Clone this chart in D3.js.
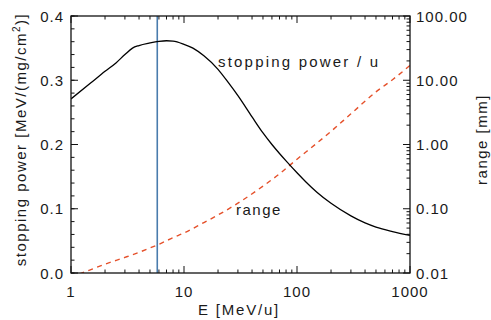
<!DOCTYPE html>
<html><head><meta charset="utf-8">
<script src="https://cdn.jsdelivr.net/npm/d3@7"></script>
<style>body{margin:0;background:#fff}svg{display:block}text{font-family:"Liberation Sans",Arial,sans-serif;fill:#1a1a1a}</style>
</head><body>
<script>
// data
const spE = [1, 1.5, 2, 2.5, 3, 3.5, 4, 5, 6, 7, 8, 10, 12, 15, 20, 25, 30, 40, 50, 60, 70, 80, 100, 120, 150, 200, 300, 400, 500, 700, 1000];
const spS = [0.271, 0.296, 0.314, 0.327, 0.340, 0.350, 0.354, 0.358, 0.3605, 0.3615, 0.361, 0.356, 0.350, 0.338, 0.317, 0.295, 0.276, 0.243, 0.218, 0.200, 0.186, 0.1745, 0.156, 0.1417, 0.1257, 0.1085, 0.089, 0.078, 0.0715, 0.0645, 0.0585];
const rgE = [1, 1.2, 1.5, 2, 3, 4, 5, 6, 8, 10, 15, 20, 30, 50, 70, 100, 150, 200, 300, 500, 700, 1000];
const rgR = [0.0082, 0.0097, 0.0113, 0.0137, 0.0175, 0.0210, 0.0245, 0.028, 0.0355, 0.042, 0.061, 0.080, 0.122, 0.225, 0.35, 0.59, 1.05, 1.6, 3.0, 6.6, 10.2, 17];
const markerE = 5.8;
const xTicks = [1, 10, 100, 1000];
const yLeftTicks = [0, 0.1, 0.2, 0.3, 0.4];
const yRightTicks = [0.01, 0.1, 1, 10, 100];
const labels = {x: "E [MeV/u]", yl: "stopping power [MeV/(mg/cm", ylSup: "2", ylEnd: ")]", yr: "range [mm]", sp: "stopping power / u", rg: "range"};

const W = 491, H = 320;
const L = 71, R = 410, T = 16, B = 273;
const svg = d3.select("body").append("svg").attr("width", W).attr("height", H);
const x = d3.scaleLog().domain([1, 1000]).range([L, R]);
const yl = d3.scaleLinear().domain([0, 0.4]).range([B, T]);
const yr = d3.scaleLog().domain([0.01, 100]).range([B, T]);
const fs = 15;

svg.append("clipPath").attr("id", "c").append("rect").attr("x", L).attr("y", T).attr("width", R - L).attr("height", B - T);

// minor tick arrays
const xMinor = [];
for (let d = 1; d < 1000; d *= 10) for (let k = 2; k <= 9; k++) xMinor.push(d * k);
const yrMinor = [];
for (let d = 0.01; d < 100; d *= 10) for (let k = 2; k <= 9; k++) yrMinor.push(d * k);
const ylMinor = d3.range(0, 0.4001, 0.02);

const g = svg.append("g").attr("stroke", "#111").attr("stroke-width", 1);
xTicks.forEach(v => {
  g.append("line").attr("x1", x(v)).attr("x2", x(v)).attr("y1", B).attr("y2", B - 7);
  g.append("line").attr("x1", x(v)).attr("x2", x(v)).attr("y1", T).attr("y2", T + 7);
});
xMinor.forEach(v => {
  g.append("line").attr("x1", x(v)).attr("x2", x(v)).attr("y1", B).attr("y2", B - 3.5);
  g.append("line").attr("x1", x(v)).attr("x2", x(v)).attr("y1", T).attr("y2", T + 3.5);
});
ylMinor.forEach(v => g.append("line").attr("x1", L).attr("x2", L + 3.5).attr("y1", yl(v)).attr("y2", yl(v)));
yLeftTicks.forEach(v => g.append("line").attr("x1", L).attr("x2", L + 7).attr("y1", yl(v)).attr("y2", yl(v)));
yrMinor.forEach(v => g.append("line").attr("x1", R).attr("x2", R - 3.5).attr("y1", yr(v)).attr("y2", yr(v)));
yRightTicks.forEach(v => g.append("line").attr("x1", R).attr("x2", R - 7).attr("y1", yr(v)).attr("y2", yr(v)));

// curves
const cg = svg.append("g").attr("clip-path", "url(#c)");
cg.append("line").attr("x1", x(markerE)).attr("x2", x(markerE)).attr("y1", T).attr("y2", B)
  .attr("stroke", "#4a7cad").attr("stroke-width", 1.6);
cg.append("path").datum(rgE.map((e, i) => [e, rgR[i]]))
  .attr("d", d3.line().x(d => x(d[0])).y(d => yr(d[1])).curve(d3.curveMonotoneX))
  .attr("fill", "none").attr("stroke", "#e5502a").attr("stroke-width", 1.4).attr("stroke-dasharray", "5,4.5");
cg.append("path").datum(spE.map((e, i) => [e, spS[i]]))
  .attr("d", d3.line().x(d => x(d[0])).y(d => yl(d[1])).curve(d3.curveMonotoneX))
  .attr("fill", "none").attr("stroke", "#000").attr("stroke-width", 1.3);

// frame
svg.append("rect").attr("x", L).attr("y", T).attr("width", R - L).attr("height", B - T)
  .attr("fill", "none").attr("stroke", "#111").attr("stroke-width", 1.3);

// tick labels
const tf = d3.format(".1f"), rf = d3.format(".2f");
xTicks.forEach(v => svg.append("text").attr("x", x(v)).attr("y", 297).attr("text-anchor", "middle")
  .attr("font-size", fs).attr("letter-spacing", 1).text(v));
yLeftTicks.forEach(v => svg.append("text").attr("x", 64).attr("y", yl(v) + 5.5).attr("text-anchor", "end")
  .attr("font-size", fs).attr("letter-spacing", 1).text(tf(v)));
yRightTicks.forEach(v => svg.append("text").attr("x", 416).attr("y", yr(v) + 5.5).attr("text-anchor", "start")
  .attr("font-size", fs).attr("letter-spacing", 1).text(rf(v)));

// axis titles
svg.append("text").attr("x", 239).attr("y", 315).attr("text-anchor", "middle")
  .attr("font-size", fs).attr("letter-spacing", 1.8).text(labels.x);
const ylt = svg.append("text").attr("transform", `translate(26,${(T + B) / 2 - 5}) rotate(-90)`).attr("text-anchor", "middle")
  .attr("font-size", fs).attr("letter-spacing", 1.5);
ylt.append("tspan").text(labels.yl);
ylt.append("tspan").attr("font-size", 10).attr("dy", -6).text(labels.ylSup);
ylt.append("tspan").attr("dy", 6).text(labels.ylEnd);
svg.append("text").attr("transform", `translate(487,${(T + B) / 2 - 5}) rotate(-90)`).attr("text-anchor", "middle")
  .attr("font-size", fs).attr("letter-spacing", 1.5).text(labels.yr);

// in-plot labels
svg.append("text").attr("x", 218).attr("y", 67).attr("font-size", fs).attr("textLength", 160).attr("lengthAdjust", "spacing").text(labels.sp);
svg.append("text").attr("x", 236).attr("y", 215).attr("font-size", fs).attr("letter-spacing", 1.5).text(labels.rg);
</script>
</body></html>
